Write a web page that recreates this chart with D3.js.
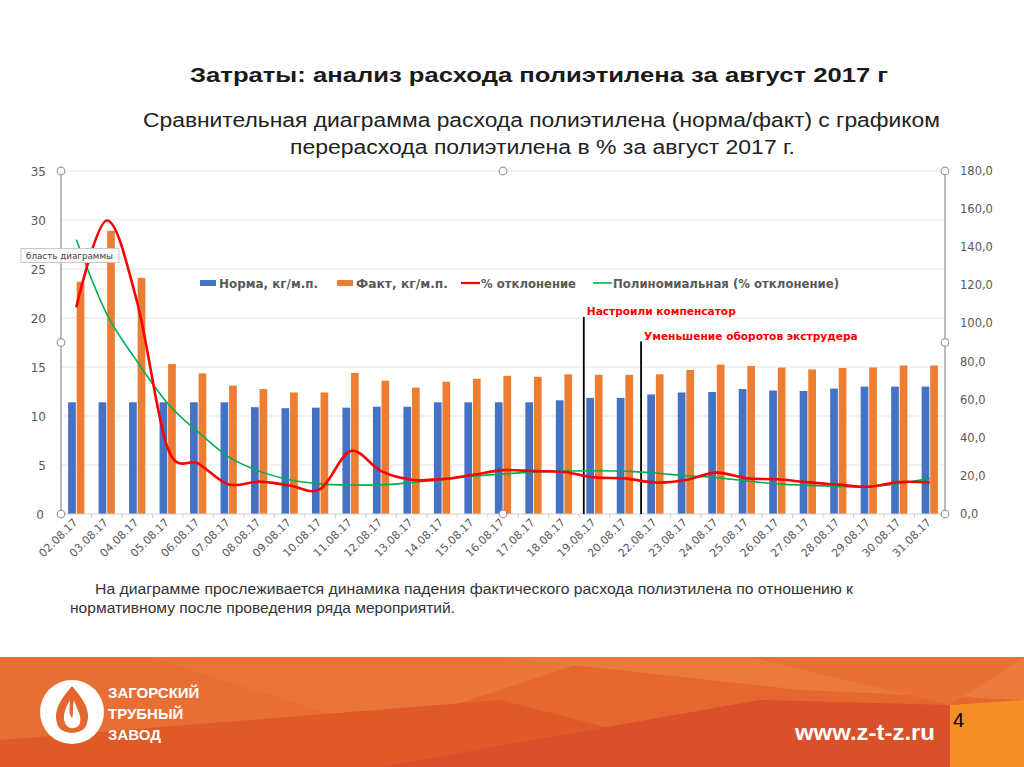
<!DOCTYPE html>
<html><head><meta charset="utf-8">
<script src="https://cdn.jsdelivr.net/npm/d3@7/dist/d3.min.js"></script>
<style>body{margin:0;background:#fff}svg{display:block}</style>
</head><body>
<svg id="c" width="1024" height="767"></svg>
<script>
const categories = ["02.08.17","03.08.17","04.08.17","05.08.17","06.08.17","07.08.17","08.08.17","09.08.17","10.08.17","11.08.17","12.08.17","13.08.17","14.08.17","15.08.17","16.08.17","17.08.17","18.08.17","19.08.17","20.08.17","22.08.17","23.08.17","24.08.17","25.08.17","26.08.17","27.08.17","28.08.17","29.08.17","30.08.17","31.08.17"];
const norma = [11.4,11.4,11.4,11.4,11.4,11.4,10.9,10.8,10.85,10.85,10.95,10.95,11.4,11.4,11.4,11.4,11.6,11.85,11.85,12.2,12.4,12.45,12.75,12.6,12.55,12.8,13.0,13.0,13.0];
const fakt = [23.7,28.9,24.1,15.3,14.35,13.1,12.75,12.4,12.4,14.4,13.6,12.9,13.5,13.8,14.1,14.0,14.25,14.2,14.2,14.25,14.7,15.25,15.1,14.95,14.75,14.9,14.95,15.15,15.15];
const deviation = [108.5,154,111,34.5,26.5,15.5,17,15,13,33,22.5,18,18.3,20.5,23,22.5,22,19.2,18.7,16.5,17.8,21.7,18.7,18.2,16.6,15.4,14.3,16.8,16.6];
const trend = [144,105,80,58,43,30,22.5,18,15.8,15.2,15.3,16.5,18,19.8,21,22,22.5,22.7,22.5,21.5,20.1,19.1,17.3,15.8,15,14.5,14.3,16,18.7];
const leftTicks = [0,5,10,15,20,25,30,35];
const rightTicks = [0,20,40,60,80,100,120,140,160,180];
const seriesNames = ["Норма, кг/м.п.","Факт, кг/м.п.","% отклонение","Полиномиальная (% отклонение)"];
const annotations = [{cat:"19.08.17", off:0.15, y:20.1, text:"Настроили компенсатор"},{cat:"22.08.17", off:0.03, y:17.6, text:"Уменьшение оборотов экструдера"}];

const svg = d3.select("#c");
const L=61,R=945,T=171,B=514;
const x = d3.scaleBand().domain(categories).range([L,R]).paddingInner(0.41).paddingOuter(0.205);
const step = x.step();
const xs = d3.scaleBand().domain(["n","f"]).range([0,x.bandwidth()]).padding(0.1);
const yL = d3.scaleLinear().domain([0,35]).range([B,T]);
const yR = d3.scaleLinear().domain([0,180]).range([B,T]);
const cx = c => x(c)+x.bandwidth()/2;
const SANS = "Liberation Sans, Arial";
const VER = "DejaVu Sans, Verdana";

function txt(parent, xx, yy, s, opt){
  const t = parent.append("text").attr("x",xx).attr("y",yy).text(s);
  Object.entries(opt).forEach(([k,v])=>t.attr(k,v));
  return t;
}

// titles
txt(svg,190,82,"Затраты: анализ расхода полиэтилена за август 2017 г",{"font-family":SANS,"font-weight":"bold","font-size":21,"fill":"#1a1a1a","textLength":698,"lengthAdjust":"spacingAndGlyphs"});
txt(svg,143,127,"Сравнительная диаграмма расхода полиэтилена (норма/факт) с графиком",{"font-family":SANS,"font-size":20,"fill":"#222","textLength":797,"lengthAdjust":"spacingAndGlyphs"});
txt(svg,290,154,"перерасхода полиэтилена в % за август 2017 г.",{"font-family":SANS,"font-size":20,"fill":"#222","textLength":505,"lengthAdjust":"spacingAndGlyphs"});

// gridlines
svg.append("g").selectAll("line").data(leftTicks.filter(d=>d>0)).join("line")
  .attr("x1",L).attr("x2",R).attr("y1",d=>yL(d)).attr("y2",d=>yL(d))
  .attr("stroke","#e6e6e6").attr("stroke-width",1);

// left axis labels
svg.append("g").selectAll("text").data(leftTicks).join("text")
  .attr("x",d=>d===0?44:46).attr("y",d=>yL(d)+4.5).attr("text-anchor","end")
  .attr("font-family",VER).attr("font-size",12).attr("fill","#595959")
  .text(d=>d);
// right axis labels
svg.append("g").selectAll("text").data(rightTicks).join("text")
  .attr("x",960).attr("y",d=>yR(d)+4).attr("text-anchor","start")
  .attr("font-family",VER).attr("font-size",11.5).attr("fill","#595959")
  .text(d=>d.toFixed(1).replace(".",","));

// bars
const g = svg.append("g");
g.selectAll(".bn").data(categories).join("rect")
  .attr("x",(c)=>x(c)+xs("n")).attr("width",xs.bandwidth())
  .attr("y",(c,i)=>yL(norma[i])).attr("height",(c,i)=>B-yL(norma[i])).attr("fill","#4472C4");
g.selectAll(".bf").data(categories).join("rect")
  .attr("x",(c)=>x(c)+xs("f")).attr("width",xs.bandwidth())
  .attr("y",(c,i)=>yL(fakt[i])).attr("height",(c,i)=>B-yL(fakt[i])).attr("fill","#ED7D31");

// x axis line and ticks
svg.append("line").attr("x1",L).attr("x2",R).attr("y1",B).attr("y2",B).attr("stroke","#d0d0d0");
svg.append("g").selectAll("line").data(categories.slice(1)).join("line")
  .attr("x1",c=>x(c)-x.paddingInner()*step/2).attr("x2",c=>x(c)-x.paddingInner()*step/2)
  .attr("y1",B).attr("y2",B+4).attr("stroke","#d0d0d0");

// annotation lines
annotations.forEach(a=>{
  const ax = x(a.cat) - x.paddingInner()*step/2 + a.off*step;
  svg.append("line").attr("x1",ax).attr("x2",ax).attr("y1",yL(a.y)).attr("y2",B)
    .attr("stroke","#000").attr("stroke-width",1.8);
  txt(svg,ax+3,yL(a.y)-2,a.text,{"font-family":VER,"font-weight":"bold","font-size":10.6,"fill":"#FF0000"});
});

// lines
const line = d3.line().curve(d3.curveCatmullRom.alpha(0)).x((d,i)=>cx(categories[i])).y(d=>yR(d));
svg.append("path").attr("d",line(trend)).attr("fill","none").attr("stroke","#00B050").attr("stroke-width",1.6);
svg.append("path").attr("d",line(deviation)).attr("fill","none").attr("stroke","#FF0000").attr("stroke-width",2.6);

// frame lines (selection)
svg.append("line").attr("x1",L).attr("x2",L).attr("y1",T).attr("y2",B).attr("stroke","#a6a6a6").attr("stroke-width",1.5);
svg.append("line").attr("x1",R).attr("x2",R).attr("y1",T).attr("y2",B).attr("stroke","#a6a6a6").attr("stroke-width",1.5);
const handles = [[L,T],[L,(T+B)/2],[L,B],[(L+R)/2,T],[(L+R)/2,B],[R,T],[R,(T+B)/2],[R,B]];
svg.append("g").selectAll("circle").data(handles).join("circle")
  .attr("cx",d=>d[0]).attr("cy",d=>d[1]).attr("r",3.8).attr("fill","#fff").attr("stroke","#999").attr("stroke-width",1.2);

// x labels
svg.append("g").selectAll("text").data(categories).join("text")
  .attr("transform",c=>`translate(${cx(c)+2},${B+9}) rotate(-45)`).attr("text-anchor","end")
  .attr("font-family",VER).attr("font-size",11).attr("fill","#595959")
  .text(c=>c);

// legend
const lg = svg.append("g").attr("font-family",VER).attr("font-weight","bold").attr("font-size",11.5).attr("fill","#595959");
const lx = [200,337,461,593];
const lw = [99,92,95,226];
lg.append("rect").attr("x",lx[0]).attr("y",280).attr("width",16).attr("height",6).attr("fill","#4472C4");
lg.append("rect").attr("x",lx[1]).attr("y",280).attr("width",16).attr("height",6).attr("fill","#ED7D31");
lg.append("line").attr("x1",lx[2]).attr("x2",lx[2]+19).attr("y1",283).attr("y2",283).attr("stroke","#FF0000").attr("stroke-width",2.2);
lg.append("line").attr("x1",lx[3]).attr("x2",lx[3]+19).attr("y1",283).attr("y2",283).attr("stroke","#00B050").attr("stroke-width",1.6);
seriesNames.forEach((s,i)=>{
  lg.append("text").attr("x",lx[i]+(i<2?19:20)).attr("y",287.5).attr("textLength",lw[i]).attr("lengthAdjust","spacingAndGlyphs").text(s);
});

// tooltip
svg.append("rect").attr("x",21).attr("y",248.5).attr("width",98).attr("height",14).attr("fill","#fafafa").attr("stroke","#c8c8c8");
txt(svg,26,259,"бласть диаграммы",{"font-family":VER,"font-size":9.5,"fill":"#444","textLength":87,"lengthAdjust":"spacingAndGlyphs"});

// description text
txt(svg,95,594,"На диаграмме прослеживается динамика падения фактического расхода полиэтилена по отношению к",{"font-family":SANS,"font-size":14,"fill":"#333","textLength":758,"lengthAdjust":"spacingAndGlyphs"});
txt(svg,70,613,"нормативному после проведения ряда мероприятий.",{"font-family":SANS,"font-size":14,"fill":"#333","textLength":385,"lengthAdjust":"spacingAndGlyphs"});

// footer
const f = svg.append("g");
f.append("rect").attr("x",0).attr("y",657).attr("width",1024).attr("height",110).attr("fill","#E5662E");
const polys = [
  {p:"0,657 420,657 250,767 0,767", c:"#E86E33"},
  {p:"150,657 600,657 380,730", c:"#EA7538"},
  {p:"500,657 1024,657 1024,700 800,690", c:"#EB7A3C"},
  {p:"0,740 500,700 760,767 0,767", c:"#DF5A28"},
  {p:"380,767 760,700 950,705 950,767", c:"#D9502A"},
  {p:"750,657 1024,657 950,705", c:"#E87037"},
  {p:"950,705 1024,700 1024,767 950,767", c:"#F68E26"}
];
f.selectAll("polygon").data(polys).join("polygon").attr("points",d=>d.p).attr("fill",d=>d.c);
f.append("circle").attr("cx",72).attr("cy",712).attr("r",32).attr("fill","#fff");
f.append("path").attr("d","M72,686 C60,700 52,712 58,726 C62,735 82,735 86,726 C92,712 84,700 72,686 Z").attr("fill","#E5662E");
f.append("path").attr("d","M70,700 C64,710 62,718 66,725 C70,730 78,729 80,723 C82,715 76,708 74,700 C72,708 74,714 72,718 C68,714 70,706 70,700 Z").attr("fill","#fff");
const ft = f.append("g").attr("font-family",SANS).attr("font-weight","bold").attr("font-size",15).attr("fill","#fff");
["ЗАГОРСКИЙ","ТРУБНЫЙ","ЗАВОД"].forEach((t,i)=>ft.append("text").attr("x",108).attr("y",698+i*21).text(t));
txt(f,795,740,"www.z-t-z.ru",{"font-family":SANS,"font-weight":"bold","font-size":22,"fill":"#fff","textLength":140,"lengthAdjust":"spacingAndGlyphs"});
txt(f,953,727,"4",{"font-family":SANS,"font-size":20,"fill":"#000"});
</script>
</body></html>
